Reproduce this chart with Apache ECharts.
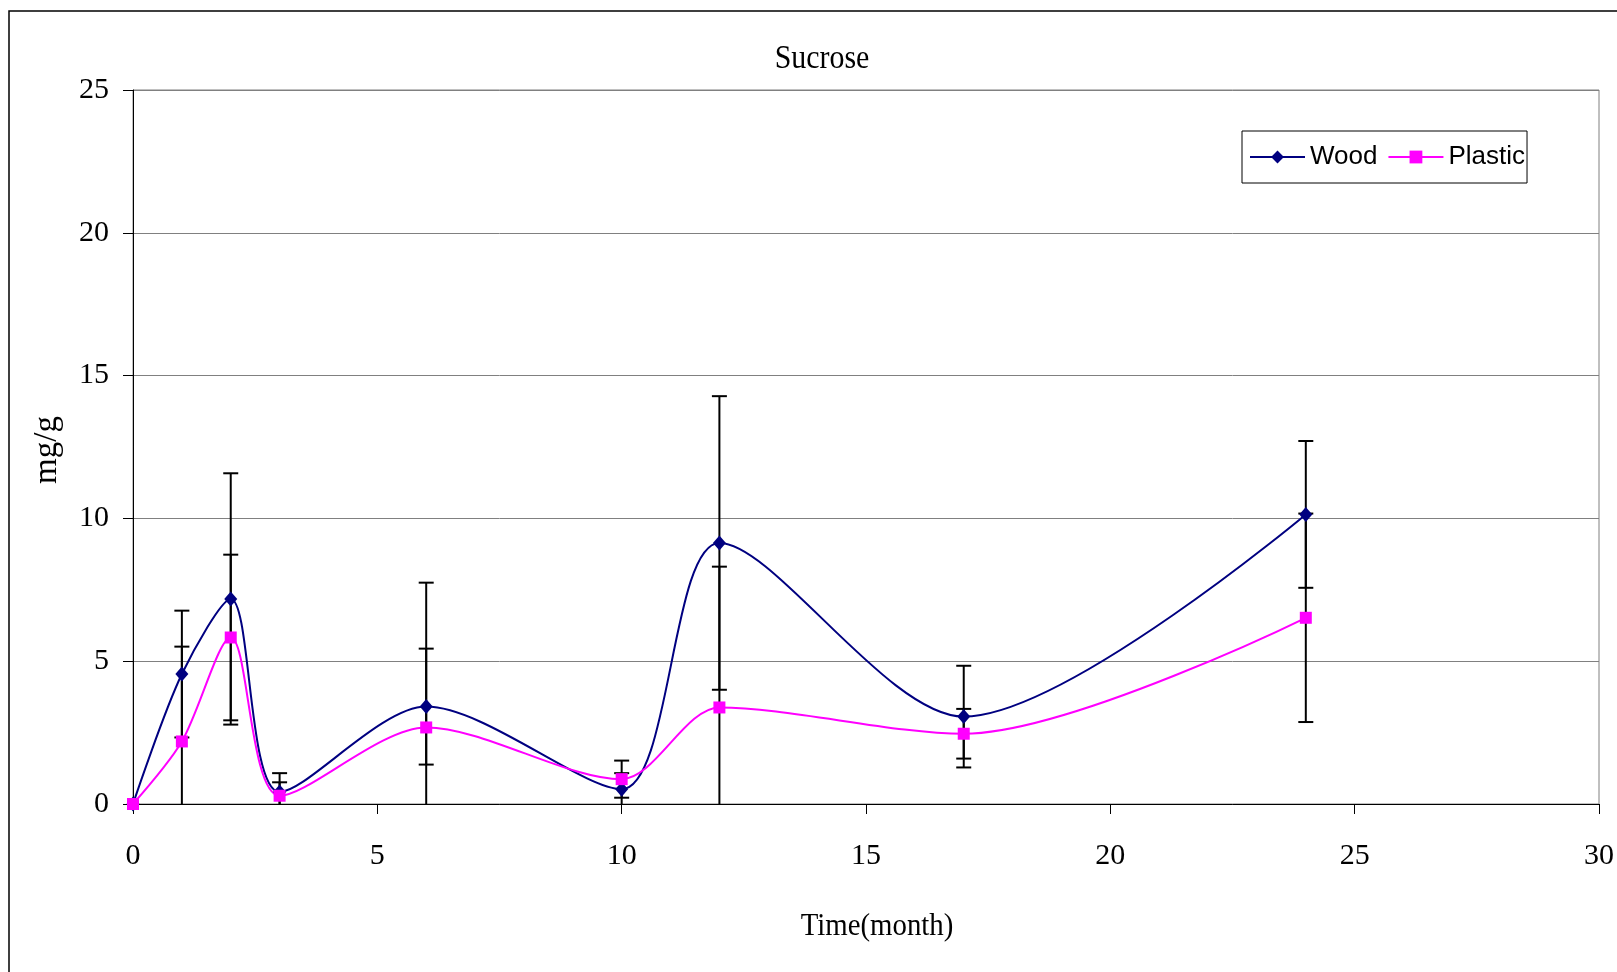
<!DOCTYPE html>
<html>
<head>
<meta charset="utf-8">
<script src="https://cdn.jsdelivr.net/npm/echarts@6/dist/echarts.min.js"></script>
<style>
html,body{margin:0;padding:0;background:#fff;}
#chart{width:1617px;height:972px;}
</style>
</head>
<body>
<div id="chart"></div>
<script>
// ---- data ----
var months = [0, 1, 2, 3, 6, 10, 12, 17, 24];
var wood = [0, 4.55, 7.18, 0.42, 3.41, 0.52, 9.14, 3.06, 10.14];
var plastic = [0, 2.19, 5.83, 0.29, 2.68, 0.87, 3.38, 2.46, 6.52];
var woodErr = [0, 2.22, 4.4, 0.66, 2.03, 0.56, 5.14, 1.78, 2.57];
var plasticErr = [0, 3.32, 2.9, 0.47, 5.07, 0.65, 4.93, 0.87, 3.65];
var xTicks = [0, 5, 10, 15, 20, 25, 30];
var yTicks = [0, 5, 10, 15, 20, 25];
var titleText = 'Sucrose';
var xName = 'Time(month)';
var yName = 'mg/g';

var chart = echarts.init(document.getElementById('chart'), null, {renderer: 'canvas'});

function pairs(vals) { return months.map(function (m, i) { return [m, vals[i]]; }); }
function errTriples(vals, errs) { return months.map(function (m, i) { return [m, vals[i], errs[i]]; }); }

function renderErr(params, api) {
  var x = api.value(0), v = api.value(1), e = api.value(2);
  if (!e) return null;
  var hi = v + e, loRaw = v - e, lo = Math.max(loRaw, 0);
  var pHi = api.coord([x, hi]);
  var pLo = api.coord([x, lo]);
  var w = 7.5;
  var st = {stroke: '#000', lineWidth: 2};
  var children = [
    {type: 'line', shape: {x1: pHi[0], y1: pHi[1], x2: pLo[0], y2: pLo[1]}, style: st},
    {type: 'line', shape: {x1: pHi[0] - w, y1: pHi[1], x2: pHi[0] + w, y2: pHi[1]}, style: st}
  ];
  if (loRaw >= 0) {
    children.push({type: 'line', shape: {x1: pLo[0] - w, y1: pLo[1], x2: pLo[0] + w, y2: pLo[1]}, style: st});
  }
  return {type: 'group', children: children};
}

var serif = '"Liberation Serif", "Times New Roman", serif';
var sans = '"Liberation Sans", Arial, sans-serif';

var option = {
  backgroundColor: '#fff',
  animation: false,
  grid: {
    left: 133, top: 90, right: 16, bottom: 168,
    show: true, borderColor: '#808080', borderWidth: 1, backgroundColor: 'transparent'
  },
  legend: {
    data: ['Wood', 'Plastic'],
    left: 1242, top: 131,
    orient: 'horizontal',
    borderColor: '#000', borderWidth: 1,
    padding: [13, 2, 13, 7],
    itemWidth: 55, itemHeight: 16, itemGap: 10,
    textStyle: {fontFamily: sans, fontSize: 26, color: '#000'}
  },
  xAxis: {
    type: 'value', min: 0, max: 30, interval: 5,
    axisLine: {show: true, lineStyle: {color: '#000', width: 1}},
    axisTick: {show: true, inside: false, length: 10, lineStyle: {color: '#000'}},
    splitLine: {show: false},
    axisLabel: {
      margin: 37, color: '#000', fontFamily: serif, fontSize: 30,
      formatter: function (v) { return xTicks.indexOf(v) >= 0 ? String(v) : ''; }
    }
  },
  yAxis: {
    type: 'value', min: 0, max: 25, interval: 5,
    axisLine: {show: true, lineStyle: {color: '#000', width: 1}},
    axisTick: {show: true, inside: false, length: 10, lineStyle: {color: '#000'}},
    splitLine: {show: true, lineStyle: {color: '#808080', width: 1}},
    axisLabel: {
      margin: 24, color: '#000', fontFamily: serif, fontSize: 30,
      formatter: function (v) { return yTicks.indexOf(v) >= 0 ? String(v) : ''; }
    }
  },
  graphic: [
    {type: 'rect', shape: {x: 9, y: 11, width: 3000, height: 3000}, style: {fill: 'none', stroke: '#000', lineWidth: 1.5}, silent: true, z: -10},
    {type: 'text', x: 822, y: 59, scaleX: 0.88, style: {text: titleText, fontFamily: serif, fontSize: 34, fill: '#000', align: 'center', verticalAlign: 'middle'}},
    {type: 'text', x: 877, y: 927, scaleX: 0.9, style: {text: xName, fontFamily: serif, fontSize: 32, fill: '#000', align: 'center', verticalAlign: 'middle'}},
    {type: 'text', x: 47, y: 450, rotation: Math.PI / 2, style: {text: yName, fontFamily: serif, fontSize: 33, fill: '#000', align: 'center', verticalAlign: 'middle'}}
  ],
  series: [
    {
      name: 'WoodErr', type: 'custom', renderItem: renderErr, data: errTriples(wood, woodErr),
      z: 1, silent: true, encode: {x: 0, y: [1]}
    },
    {
      name: 'PlasticErr', type: 'custom', renderItem: renderErr, data: errTriples(plastic, plasticErr),
      z: 1, silent: true, encode: {x: 0, y: [1]}
    },
    {
      name: 'Wood', type: 'line', data: pairs(wood), smooth: 0.3,
      symbol: 'diamond', symbolSize: [13, 15],
      lineStyle: {color: '#000080', width: 2},
      itemStyle: {color: '#000080'},
      z: 3
    },
    {
      name: 'Plastic', type: 'line', data: pairs(plastic), smooth: 0.3,
      symbol: 'rect', symbolSize: 12,
      lineStyle: {color: '#FF00FF', width: 2},
      itemStyle: {color: '#FF00FF'},
      z: 3
    }
  ]
};
chart.setOption(option);
</script>
</body>
</html>
